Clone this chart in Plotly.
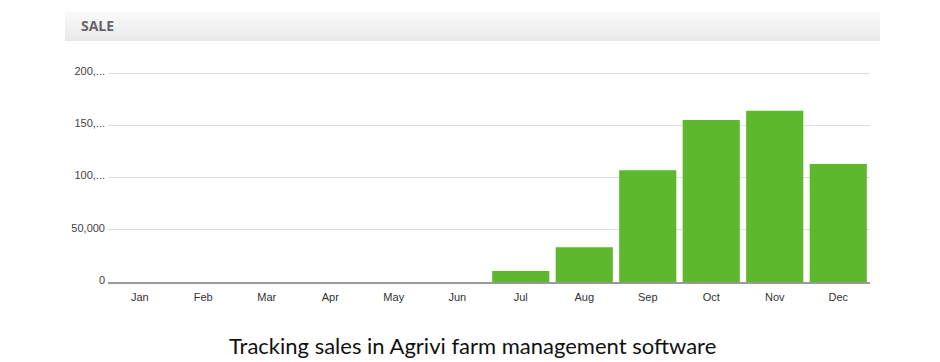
import plotly.graph_objects as go

months = ["Jan", "Feb", "Mar", "Apr", "May", "Jun", "Jul", "Aug", "Sep", "Oct", "Nov", "Dec"]
sales = [0, 0, 0, 0, 0, 0, 10500, 33200, 107000, 155000, 164000, 113000]
tick_vals = [0, 50000, 100000, 150000, 200000]
tick_text = ["0", "50,000", "100,...", "150,...", "200,..."]
header_title = "SALE"
caption = "Tracking sales in Agrivi farm management software"

OFF = 8  # page body margin
W, H = 940 - OFF, 362 - OFF


def px(x):
    return (x - OFF) / W


def py(y):
    return 1 - (y - OFF) / H


fig = go.Figure()
fig.add_trace(go.Bar(
    x=months, y=sales,
    marker=dict(color="#5cb82c", line=dict(width=0)),
    hoverinfo="x+y",
))

# header gradient bar
top, bot = 12, 41
steps = 14
shapes = []
for i in range(steps):
    ya = top + (bot - top) * i / steps
    yb = top + (bot - top) * (i + 1) / steps
    t = i / (steps - 1)
    c = int(249 - t * 17)
    shapes.append(dict(type="rect", xref="paper", yref="paper",
                       x0=px(65), x1=px(880), y0=py(yb), y1=py(ya),
                       fillcolor=f"rgb({c},{c},{c})", line=dict(width=0), layer="below"))

plot_l, plot_r, plot_t, plot_b = 108, 870, 72, 282
fig.update_layout(
    width=W, height=H,
    margin=dict(l=0, r=0, t=0, b=0, autoexpand=False),
    paper_bgcolor="white", plot_bgcolor="white",
    bargap=0.1,
    showlegend=False,
    shapes=shapes,
    font=dict(family="Liberation Sans, Arial, sans-serif", size=11, color="#444"),
    xaxis=dict(domain=[px(plot_l), px(plot_r)], automargin=False,
               showgrid=False, showline=True, linecolor="#999", linewidth=1.5,
               ticks="", ticklabelstandoff=4,
               tickfont=dict(size=11, color="#333"), fixedrange=True),
    yaxis=dict(domain=[py(plot_b), py(plot_t)], automargin=False,
               range=[0, 201000], tickvals=tick_vals, ticktext=tick_text,
               showgrid=True, gridcolor="#dedede", gridwidth=1, zeroline=False,
               ticks="", ticklabelstandoff=2, ticklabelshift=-2,
               tickfont=dict(size=11, color="#444"), fixedrange=True),
    annotations=[
        dict(text=f"<b>{header_title}</b>", xref="paper", yref="paper",
             x=px(79), y=py(26), xanchor="left", yanchor="middle",
             showarrow=False, font=dict(family="Open Sans, sans-serif", size=14, color="#666")),
        dict(text=caption, xref="paper", yref="paper",
             x=px(472), y=py(345), xanchor="center", yanchor="middle",
             showarrow=False, font=dict(family="Lato, sans-serif", size=22, color="#111")),
    ],
)
fig.write_html("out.html")
